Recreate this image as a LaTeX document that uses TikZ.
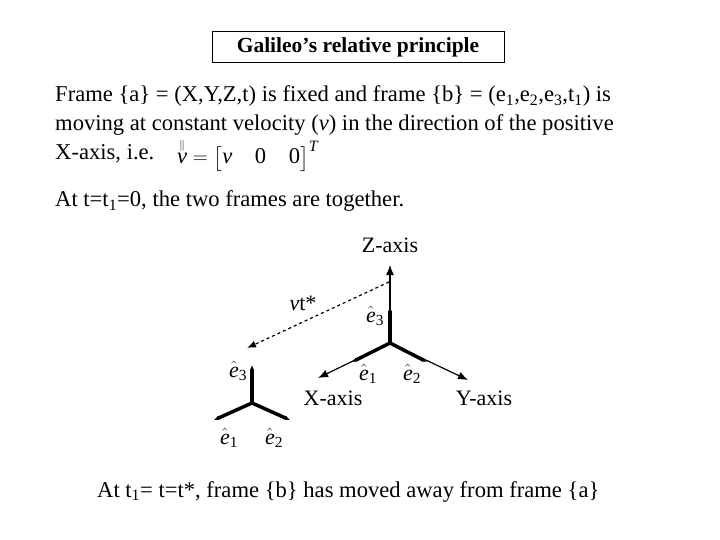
\documentclass[tikz,border=0pt]{standalone}
\usepackage{amsmath}
\usepackage{fontspec}
\setmainfont{Liberation Serif}
\usetikzlibrary{arrows.meta}
\newcommand{\ehat}[1]{$\hat{\text{\textit{e}}}_{\text{#1}}$}
\begin{document}
\begin{tikzpicture}[x=1pt,y=-1pt,
  txt/.style={anchor=base west,inner sep=0pt,font=\fontsize{22.6}{27}\selectfont},
  thin axis/.style={line width=1.2pt,-{Latex[length=10pt,width=8pt]}},
  thick vec/.style={line width=3.5pt,-{Latex[length=5pt,width=4.5pt]}},
  lbl/.style={inner sep=0pt,font=\fontsize{22}{26}\selectfont}]
\useasboundingbox (0,0) rectangle (720,540);
\node[draw,line width=1pt,minimum width=292pt,minimum height=31pt,font=\bfseries\fontsize{21.5}{25}\selectfont] (title) at (358,47.5) {Galileo’s relative principle};
\node[txt] (l1) at (55,102) {Frame \{a\} = (X,Y,Z,t) is fixed and frame \{b\} = (e\textsubscript{1},e\textsubscript{2},e\textsubscript{3},t\textsubscript{1}) is};
\node[txt] (l2) at (55,131) {moving at constant velocity (\textit{v}) in the direction of the positive};
\node[txt] (l3) at (55,160) {X-axis, i.e.};
\node[txt] (eq) at (177,164) {$\overset{\scriptscriptstyle\|}{\text{\textit{v}}}=\bigl[\text{\textit{v}}\quad \text{0}\quad \text{0}\bigr]^{\text{\textit{T}}}$};
\node[txt] (l4) at (55,207) {At t=t\textsubscript{1}=0, the two frames are together.};
\node[txt] (l5) at (97,497) {At t\textsubscript{1}= t=t*, frame \{b\} has moved away from frame \{a\}};
% main frame
\coordinate (O) at (390,343);
\coordinate (Z) at (390,265);
\coordinate (X) at (318,378);
\coordinate (Y) at (468,380);
\draw[thin axis] (O) -- (Z);
\draw[thin axis] (O) -- (X);
\draw[thin axis] (O) -- (Y);
\draw[thick vec] (O) -- (390,307);
\draw[thick vec] (O) -- (352,362);
\draw[thick vec] (O) -- (427,362);
\node[lbl] (za) at (390,245) {Z-axis};
\node[lbl] (xa) at (333,398) {X-axis};
\node[lbl] (ya) at (484,398) {Y-axis};
\node[lbl] (me3) at (375,316) {\ehat{3}};
\node[lbl] (me1) at (368,374) {\ehat{1}};
\node[lbl] (me2) at (412,374) {\ehat{2}};
% moved frame
\coordinate (o) at (252,403);
\draw[thick vec] (o) -- (252,365);
\draw[thick vec] (o) -- (214,420);
\draw[thick vec] (o) -- (290,420);
\node[lbl] (se3) at (238,371) {\ehat{3}};
\node[lbl] (se1) at (229,438) {\ehat{1}};
\node[lbl] (se2) at (274,438) {\ehat{2}};
% displacement
\coordinate (d1) at (389,282);
\coordinate (d2) at (247,348);
\draw[dashed,line width=1.2pt,-{Latex[length=9pt,width=7pt]}] (d1) -- (d2);
\node[lbl] (vt) at (303,303) {\textit{v}t*};
\end{tikzpicture}
\end{document}
